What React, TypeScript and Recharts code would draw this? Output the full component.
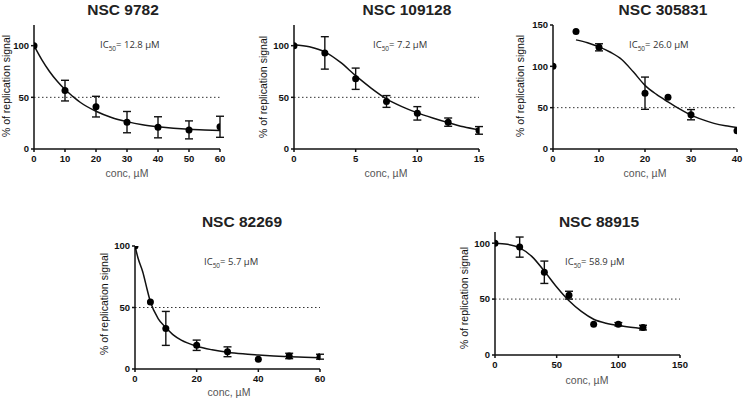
import React from 'react';
import { ComposedChart, Line, Scatter, ErrorBar, XAxis, YAxis, ReferenceLine } from 'recharts';

// NSC 9782
const p1X = [0, 10, 20, 30, 40, 50, 60];
const p1Mean = [100, 56.5, 41, 26, 21, 18.5, 21.5];
const p1Err = [null, 10, 10, 10.3, 10.2, 8.7, 10.2];
const p1FitX = [0, 2.5, 5, 7.5, 10, 12.5, 15, 20, 25, 30, 35, 40, 45, 50, 55, 60];
const p1FitY = [100, 86.5, 75, 65.5, 57.5, 51, 45, 36.5, 30.5, 26.5, 23.5, 21.5, 20, 19, 18.5, 18];

// NSC 109128
const p2X = [0, 2.5, 5, 7.5, 10, 12.5, 15];
const p2Mean = [100, 93, 68, 46, 34.5, 26, 18];
const p2Err = [null, 15.7, 10.3, 5.7, 6.5, 4, 3.7];
const p2FitX = [0, 1.25, 2.5, 3.75, 5, 6.25, 7.5, 8.75, 10, 11.25, 12.5, 13.75, 15];
const p2FitY = [101, 99, 94, 84, 71, 59, 48.5, 41, 35, 30, 25.5, 21.5, 18.5];

// NSC 305831
const p3X = [0, 5, 10, 20, 25, 30, 40];
const p3Mean = [100, 142, 123, 67.5, 62.5, 41.5, 22];
const p3Err = [null, null, 4.3, 19.5, null, 6.2, null];
const p3FitX = [5, 7.5, 10, 12.5, 15, 17.5, 20, 22.5, 25, 27.5, 30, 32.5, 35, 37.5, 40];
const p3FitY = [132, 128.5, 123.5, 117, 108, 93, 77, 66, 57, 48.5, 41, 35.5, 31, 28, 26];

// NSC 82269
const p4X = [0, 5, 10, 20, 30, 40, 50, 60];
const p4Mean = [100, 54.5, 33, 19.3, 14, 8, 10.6, 10];
const p4Err = [null, null, 13.8, 4.2, 4, null, 2.2, 2];
const p4FitX = [0, 1, 2.5, 4, 5, 7.5, 10, 12.5, 15, 20, 25, 30, 35, 40, 45, 50, 55, 60];
const p4FitY = [100, 90, 79, 64, 54.6, 41, 33.7, 27.5, 23.4, 18.5, 15.6, 13.6, 12.3, 11.4, 10.6, 10, 9.6, 9.2];

// NSC 88915
const p5X = [0, 20, 40, 60, 80, 100, 120];
const p5Mean = [100, 96.5, 74, 53.5, 27.5, 27.5, 24.5];
const p5Err = [null, 9, 10, 3.5, null, 1.5, 2.1];
const p5FitX = [0, 10, 20, 30, 40, 50, 60, 70, 80, 90, 100, 110, 120];
const p5FitY = [100, 99, 95.8, 88, 75, 60.8, 48.5, 39, 32, 28.4, 26.3, 24.8, 23.6];

const toPoints = (xs: number[], ys: number[], errs?: (number | null)[]) =>
  xs.map((x, i) => ({ x, y: ys[i], err: errs ? errs[i] : undefined }));

interface PanelProps {
  box: { x: number; y: number; w: number; h: number };
  xDomain: [number, number];
  xTicks: number[];
  yDomain: [number, number];
  yTicks: number[];
  points: { x: number; y: number; err?: number | null }[];
  fit: { x: number; y: number }[];
}

const tickStyle = { fontSize: 9.5, fontWeight: 'bold', fill: '#111', fontFamily: '"Liberation Sans", Arial, sans-serif' };

const Dot = (props: any) => <circle cx={props.cx} cy={props.cy} r={3.5} fill="#000" />;

const Panel: React.FC<PanelProps> = ({ box, xDomain, xTicks, yDomain, yTicks, points, fit }) => {
  // y axis takes 30px on the left, x axis 20px at the bottom
  const m = { top: 10, left: 10, right: 10, bottom: 5 };
  const yw = 30;
  const xh = 20;
  return (
    <div style={{ position: 'absolute', left: box.x - m.left - yw, top: box.y - m.top }}>
      <ComposedChart width={box.w + m.left + yw + m.right} height={box.h + m.top + xh + m.bottom} margin={m}>
        <XAxis
          type="number"
          dataKey="x"
          domain={xDomain}
          ticks={xTicks}
          height={xh}
          tickSize={3}
          tickMargin={3}
          tick={tickStyle}
          stroke="#111"
          strokeWidth={1.5}
          allowDataOverflow
        />
        <YAxis
          type="number"
          dataKey="y"
          domain={yDomain}
          ticks={yTicks}
          width={yw}
          tickSize={3}
          tickMargin={2}
          tick={tickStyle}
          stroke="#111"
          strokeWidth={1.5}
          allowDataOverflow
        />
        <ReferenceLine y={50} stroke="#333" strokeWidth={1} strokeDasharray="1.5 2.5" />
        <Line
          data={fit}
          dataKey="y"
          type="monotone"
          stroke="#111"
          strokeWidth={1.5}
          dot={false}
          activeDot={false}
          isAnimationActive={false}
        />
        <Scatter data={points} dataKey="y" shape={<Dot />} isAnimationActive={false}>
          <ErrorBar dataKey="err" direction="y" width={4} stroke="#111" strokeWidth={1.4} isAnimationActive={false} />
        </Scatter>
      </ComposedChart>
    </div>
  );
};

const icFont = '"Open Sans", sans-serif';
const labelFont = '"Liberation Sans", Arial, sans-serif';

const Ic50: React.FC<{ x: number; y: number; value: string }> = ({ x, y, value }) => (
  <text x={x} y={y} fontSize={9.5} fill="#333" fontFamily={icFont}>
    <tspan>IC</tspan>
    <tspan fontSize={6.5} dy={2.5}>50</tspan>
    <tspan dy={-2.5}>{`= ${value} \u00b5M`}</tspan>
  </text>
);

const Texts: React.FC<{
  title: string; tx: number; ty: number;
  ic: string; ix: number; iy: number;
  cx: number; cy: number;
  yx: number; yy: number;
}> = ({ title, tx, ty, ic, ix, iy, cx, cy, yx, yy }) => (
  <g>
    <text x={tx} y={ty} textAnchor="middle" fontSize={15.5} fontWeight="bold" fill="#222" fontFamily={labelFont}>
      {title}
    </text>
    <Ic50 x={ix} y={iy} value={ic} />
    <text x={cx} y={cy} textAnchor="middle" fontSize={10.5} fill="#555" fontFamily={labelFont}>
      {'conc, \u00b5M'}
    </text>
    <text
      x={yx}
      y={yy}
      textAnchor="middle"
      fontSize={10.5}
      fill="#111"
      fontFamily={labelFont}
      transform={`rotate(-90 ${yx} ${yy})`}
    >
      % of replication signal
    </text>
  </g>
);

const App: React.FC = () => {
  return (
    <div style={{ position: 'absolute', left: 0, top: 0, width: 743, height: 400, background: '#fff', overflow: 'hidden' }}>
      <Panel
        box={{ x: 34, y: 25, w: 186, h: 124 }}
        xDomain={[0, 60]}
        xTicks={[0, 10, 20, 30, 40, 50, 60]}
        yDomain={[0, 120]}
        yTicks={[0, 50, 100]}
        points={toPoints(p1X, p1Mean, p1Err)}
        fit={toPoints(p1FitX, p1FitY)}
      />
      <Panel
        box={{ x: 294, y: 25, w: 185, h: 124 }}
        xDomain={[0, 15]}
        xTicks={[0, 5, 10, 15]}
        yDomain={[0, 120]}
        yTicks={[0, 50, 100]}
        points={toPoints(p2X, p2Mean, p2Err)}
        fit={toPoints(p2FitX, p2FitY)}
      />
      <Panel
        box={{ x: 553, y: 25, w: 184, h: 124 }}
        xDomain={[0, 40]}
        xTicks={[0, 10, 20, 30, 40]}
        yDomain={[0, 150]}
        yTicks={[0, 50, 100, 150]}
        points={toPoints(p3X, p3Mean, p3Err)}
        fit={toPoints(p3FitX, p3FitY)}
      />
      <Panel
        box={{ x: 135, y: 246, w: 185, h: 123 }}
        xDomain={[0, 60]}
        xTicks={[0, 20, 40, 60]}
        yDomain={[0, 100]}
        yTicks={[0, 50, 100]}
        points={toPoints(p4X, p4Mean, p4Err)}
        fit={toPoints(p4FitX, p4FitY)}
      />
      <Panel
        box={{ x: 495, y: 232, w: 185, h: 123 }}
        xDomain={[0, 150]}
        xTicks={[0, 50, 100, 150]}
        yDomain={[0, 110]}
        yTicks={[0, 50, 100]}
        points={toPoints(p5X, p5Mean, p5Err)}
        fit={toPoints(p5FitX, p5FitY)}
      />
      <svg width={743} height={400} style={{ position: 'absolute', left: 0, top: 0, pointerEvents: 'none' }}>
        <Texts title="NSC 9782" tx={123} ty={14.5} ic="12.8" ix={100} iy={48} cx={127} cy={177} yx={10} yy={86} />
        <Texts title="NSC 109128" tx={407} ty={14.5} ic="7.2" ix={373} iy={48} cx={386} cy={177} yx={267} yy={87} />
        <Texts title="NSC 305831" tx={663} ty={14.5} ic="26.0" ix={629} iy={48} cx={645} cy={177} yx={524} yy={86} />
        <Texts title="NSC 82269" tx={242} ty={227} ic="5.7" ix={204} iy={265} cx={229} cy={396} yx={108} yy={304} />
        <Texts title="NSC 88915" tx={599} ty={227} ic="58.9" ix={565} iy={265} cx={587} cy={384} yx={468} yy={298} />
      </svg>
    </div>
  );
};

export default App;
